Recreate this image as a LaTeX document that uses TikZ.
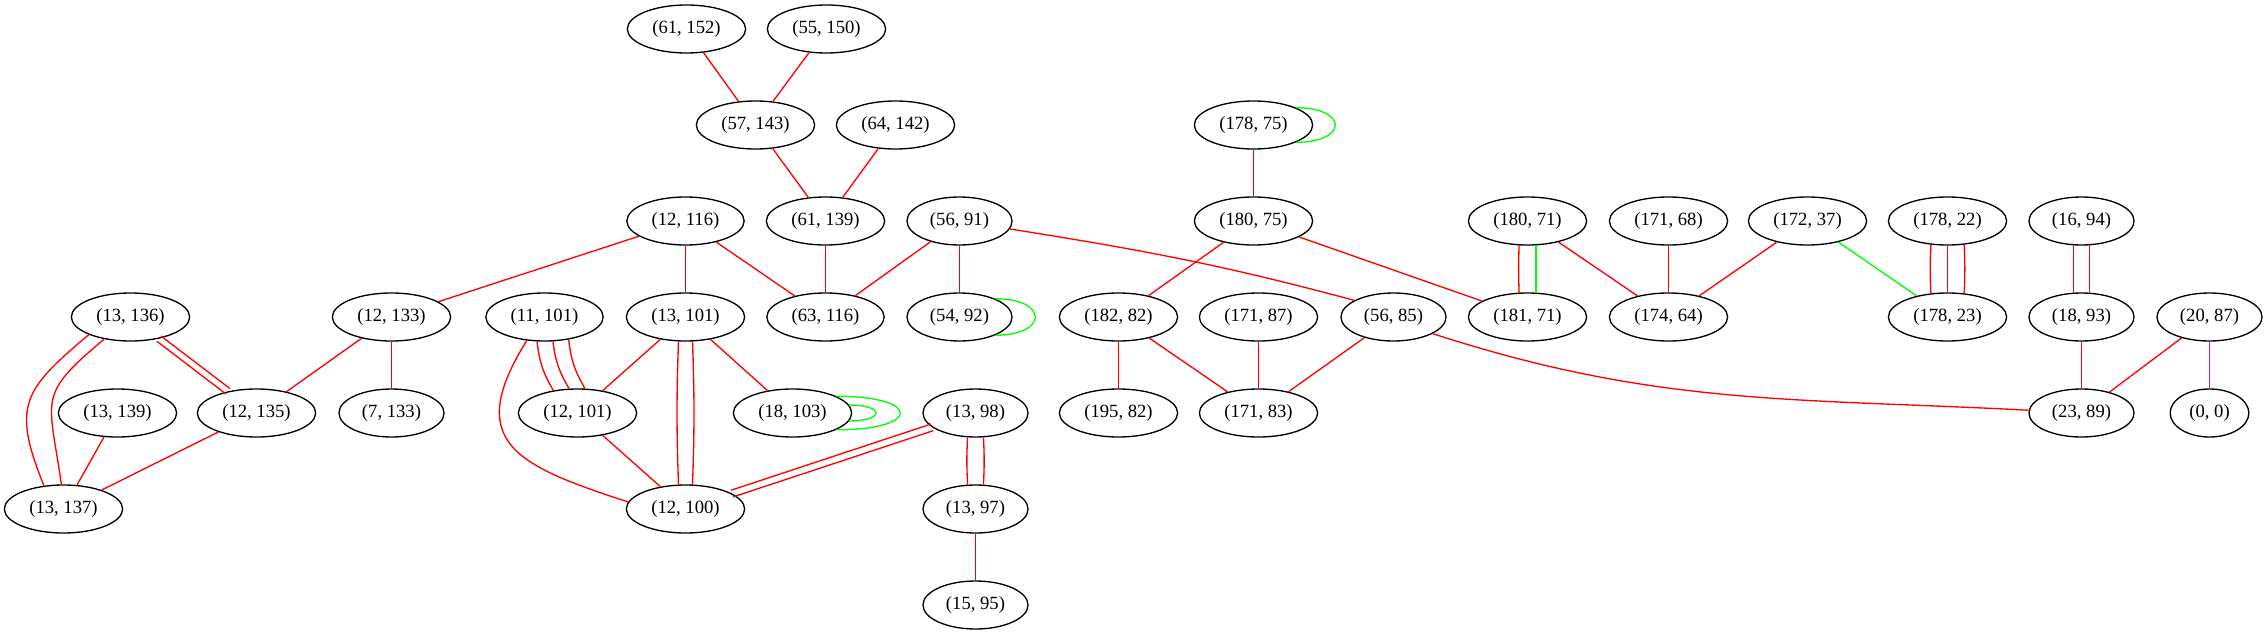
\documentclass[tikz,border=0pt]{standalone}
\usepackage{fontspec}
\setmainfont{Liberation Serif}
\usepackage{tikz}
\usetikzlibrary{shapes.geometric}
\definecolor{gvRed}{RGB}{255,0,0}
\definecolor{gvGreen}{RGB}{0,255,0}
\definecolor{gvPurple}{RGB}{160,32,240}

\begin{document}
\begin{tikzpicture}[
        x=0.75pt, y=-0.75pt,
        tuple/.style={draw, ellipse, line width=1pt, minimum width=54pt, minimum height=36pt, inner xsep=5.7pt, inner ysep=3pt, font=\fontsize{14pt}{16pt}\selectfont},
        redge/.style={draw=gvRed, line width=1pt},
        gedge/.style={draw=gvGreen, line width=1pt},
        pedge/.style={draw=gvPurple, line width=1pt}
      ]
        \useasboundingbox (-0.5,0) rectangle (2266.5,635);

        % rank 1 and 2
        \node[tuple] (p61x152) at (686,29) {(61, 152)};
        \node[tuple] (p55x150) at (826,29) {(55, 150)};
        \node[tuple] (p57x143) at (755,125) {(57, 143)};
        \node[tuple] (p64x142) at (895,125) {(64, 142)};
        \node[tuple] (p178x75) at (1253,125) {(178, 75)};

        % rank 3
        \node[tuple] (p12x116) at (685,221) {(12, 116)};
        \node[tuple] (p61x139) at (825,221) {(61, 139)};
        \node[tuple] (p56x91) at (959,221) {(56, 91)};
        \node[tuple] (p180x75) at (1253,221) {(180, 75)};
        \node[tuple] (p180x71) at (1527,221) {(180, 71)};
        \node[tuple] (p171x68) at (1668,221) {(171, 68)};
        \node[tuple] (p172x37) at (1807,221) {(172, 37)};
        \node[tuple] (p178x22) at (1947,221) {(178, 22)};
        \node[tuple] (p16x94) at (2081,221) {(16, 94)};

        % rank 4
        \node[tuple] (p13x136) at (130,317) {(13, 136)};
        \node[tuple] (p12x133) at (391,317) {(12, 133)};
        \node[tuple] (p11x101) at (544,317) {(11, 101)};
        \node[tuple] (p13x101) at (685,317) {(13, 101)};
        \node[tuple] (p63x116) at (825,317) {(63, 116)};
        \node[tuple] (p54x92) at (959,317) {(54, 92)};
        \node[tuple] (p182x82) at (1118,317) {(182, 82)};
        \node[tuple] (p171x87) at (1258,317) {(171, 87)};
        \node[tuple] (p56x85) at (1393,317) {(56, 85)};
        \node[tuple] (p181x71) at (1527,317) {(181, 71)};
        \node[tuple] (p174x64) at (1668,317) {(174, 64)};
        \node[tuple] (p178x23) at (1947,317) {(178, 23)};
        \node[tuple] (p18x93) at (2081,317) {(18, 93)};
        \node[tuple] (p20x87) at (2209,317) {(20, 87)};

        % rank 5
        \node[tuple] (p13x139) at (117,413) {(13, 139)};
        \node[tuple] (p12x135) at (256,413) {(12, 135)};
        \node[tuple] (p7x133) at (391,413) {(7, 133)};
        \node[tuple] (p12x101) at (577,413) {(12, 101)};
        \node[tuple] (p18x103) at (792,413) {(18, 103)};
        \node[tuple] (p13x98) at (975,413) {(13, 98)};
        \node[tuple] (p195x82) at (1118,413) {(195, 82)};
        \node[tuple] (p171x83) at (1258,413) {(171, 83)};
        \node[tuple] (p23x89) at (2081,413) {(23, 89)};
        \node[tuple] (p0x0) at (2209,413) {(0, 0)};

        % rank 6 and 7
        \node[tuple] (p13x137) at (63,509) {(13, 137)};
        \node[tuple] (p12x100) at (685,509) {(12, 100)};
        \node[tuple] (p13x97) at (975,509) {(13, 97)};
        \node[tuple] (p15x95) at (975,605) {(15, 95)};

        \draw[redge] (p61x152) -- (p57x143);
        \draw[redge] (p55x150) -- (p57x143);
        \draw[redge] (p57x143) -- (p61x139);
        \draw[redge] (p64x142) -- (p61x139);
        \draw[gedge] (p178x75.22) to[out=0, in=0, distance=39pt] (p178x75.-22);
        \draw[redge] (p178x75) -- (p180x75);

        \draw[redge] (p12x116) -- (p12x133);
        \draw[redge] (p12x116) -- (p13x101);
        \draw[redge] (p12x116) -- (p63x116);
        \draw[redge] (p61x139) -- (p63x116);
        \draw[redge] (p56x91) -- (p63x116);
        \draw[redge] (p56x91) -- (p54x92);
        \draw[redge] (p56x91.-9) to[out=-9, in=165] (p56x85.157);
        \draw[gedge] (p54x92.27) to[out=0, in=0, distance=40pt] (p54x92.-27);
        \draw[redge] (p180x75) -- (p182x82);
        \draw[redge] (p180x75) -- (p181x71);
        \draw[redge] (p180x71.-109) to[bend right=2] (p181x71.109);
        \draw[gedge] (p180x71.-71) -- (p181x71.71);
        \draw[redge] (p180x71) -- (p174x64);
        \draw[redge] (p171x68) -- (p174x64);
        \draw[redge] (p172x37) -- (p174x64);
        \draw[gedge] (p172x37) -- (p178x23);
        \draw[redge] (p178x22.-125) to[bend right=3] (p178x23.125);
        \draw[redge] (p178x22) -- (p178x23);
        \draw[redge] (p178x22.-55) to[bend left=3] (p178x23.55);
        \draw[redge] (p16x94.-108) -- (p18x93.108);
        \draw[redge] (p16x94.-72) -- (p18x93.72);
        \draw[redge] (p18x93) -- (p23x89);
        \draw[redge] (p20x87) -- (p23x89);
        \draw[pedge] (p20x87) -- (p0x0);

        \draw[redge, transform canvas={shift={(1.5pt,2pt)}}] (p13x136) -- (p12x135);
        \draw[redge, transform canvas={shift={(-1.5pt,-2pt)}}] (p13x136) -- (p12x135);
        \draw[redge] (p13x136.-157) to[out=220, in=112, looseness=1.4] (p13x137.130);
        \draw[redge] (p13x136.-140) to[out=220, in=98, looseness=1.5] (p13x137.95);
        \draw[redge] (p13x139) -- (p13x137);
        \draw[redge] (p12x133) -- (p12x135);
        \draw[redge] (p12x133) -- (p7x133);
        \draw[redge] (p12x135) -- (p13x137);

        \draw[redge] (p11x101.-107) to[bend right=12] (p12x101.137);
        \draw[redge] (p11x101.-71) to[bend right=12] (p12x101.109);
        \draw[redge] (p11x101.-43) to[bend right=12] (p12x101.73);
        \draw[redge] (p11x101.-127) to[out=238, in=162, looseness=1.6] (p12x100.173);
        \draw[redge] (p13x101) -- (p12x101);
        \draw[redge] (p13x101.-106) to[bend right=2] (p12x100.106);
        \draw[redge] (p13x101.-74) to[bend left=2] (p12x100.74);
        \draw[redge] (p13x101) -- (p18x103);
        \draw[gedge] (p18x103.8) to[out=0, in=0, distance=27pt] (p18x103.-8);
        \draw[gedge] (p18x103.21) to[out=0, in=0, distance=64pt] (p18x103.-21);
        \draw[redge] (p12x101) -- (p12x100);
        \draw[redge, transform canvas={shift={(0.8pt,-2.5pt)}}] (p13x98) -- (p12x100);
        \draw[redge, transform canvas={shift={(-0.8pt,2.5pt)}}] (p13x98) -- (p12x100);
        \draw[redge] (p13x98.-108) to[bend right=3] (p13x97.108);
        \draw[redge] (p13x98.-72) to[bend left=3] (p13x97.72);
        \draw[redge] (p13x97) -- (p15x95);

        \draw[redge] (p182x82) -- (p195x82);
        \draw[redge] (p182x82) -- (p171x83);
        \draw[redge] (p171x87) -- (p171x83);
        \draw[redge] (p56x85) -- (p171x83);
        \draw[redge] (p56x85.-23) to[out=-18, in=177] (p23x89.177);
      \end{tikzpicture}
\end{document}
